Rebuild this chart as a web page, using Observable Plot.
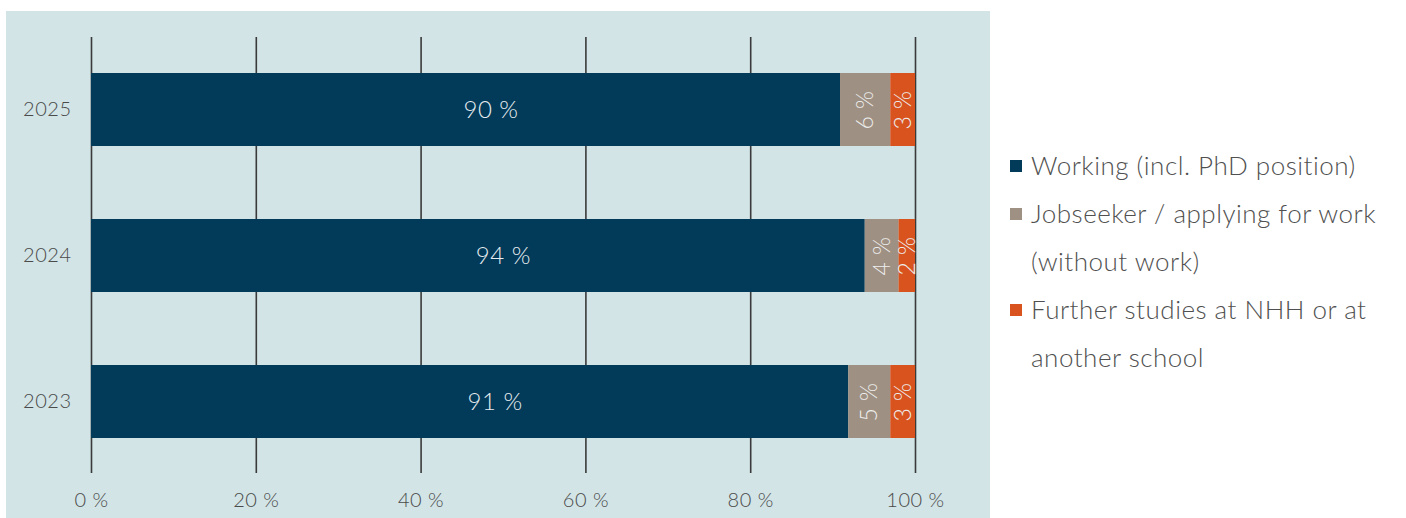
<!DOCTYPE html>
<html>
<head>
<meta charset="utf-8">
<script src="https://cdn.jsdelivr.net/npm/d3@7"></script>
<script src="https://cdn.jsdelivr.net/npm/@observablehq/plot@0.6"></script>
<style>
  body { margin: 0; background: #fff; font-family: Lato, "Noto Sans", sans-serif; }
  #panel { position: absolute; left: 6px; top: 11px; width: 984px; height: 507px; background: #d2e4e6; }
  #legend { position: absolute; left: 1010px; top: 141px; font-size: 26px; letter-spacing: 0.5px; color: #505050; font-weight: 300; }
  .item { display: flex; align-items: flex-start; line-height: 48px; }
  .sw { width: 12px; height: 12px; margin-top: 19px; margin-right: 9px; flex: none; }
  .lbl { width: 372px; }
  svg text { letter-spacing: 0.5px; }
</style>
</head>
<body>
<div id="panel"></div>
<div id="legend"></div>
<script>
const years = ["2025", "2024", "2023"];
const categories = ["Working (incl. PhD position)", "Jobseeker / applying for work (without work)", "Further studies at NHH or at another school"];
const working = [90.9, 93.9, 91.9];
const jobseeker = [6.1, 4.1, 5.1];
const further = [3.0, 2.0, 3.0];
const workingLabels = [90, 94, 91];
const jobseekerLabels = [6, 4, 5];
const furtherLabels = [3, 2, 3];
const xTicks = [0, 20, 40, 60, 80, 100];
const colors = ["#023a59", "#9e9082", "#d9531e"];

const series = [working, jobseeker, further];
const labels = [workingLabels, jobseekerLabels, furtherLabels];
const data = [];
years.forEach((y, i) => {
  categories.forEach((c, k) => {
    data.push({year: y, cat: c, k, value: series[k][i], label: labels[k][i] + " %"});
  });
});

const chart = Plot.plot({
  width: 984,
  height: 507,
  marginLeft: 85,
  marginRight: 75,
  marginTop: 26,
  marginBottom: 45,
  style: {background: "transparent", fontFamily: "Lato, 'Noto Sans', sans-serif", color: "#4a4a4a", fontWeight: 300},
  x: {domain: [0, 100], ticks: xTicks, tickFormat: d => d + " %", tickSize: 0, tickPadding: 19, label: null},
  y: {domain: years, paddingInner: 0.5, paddingOuter: 0.243, tickSize: 0, tickPadding: 20, label: null},
  color: {domain: categories, range: colors},
  marks: [
    Plot.ruleX(xTicks, {stroke: "#3a3a3a", strokeWidth: 1.6}),
    Plot.barX(data, Plot.stackX({x: "value", y: "year", fill: "cat", order: null})),
    Plot.text(data.filter(d => d.k === 0), Plot.stackX({
      x: "value", y: "year", text: "label",
      fontSize: 24, fill: "#e6ecef", fontWeight: 300, dx: 25
    })),
    Plot.text(data, Plot.stackX({
      x: "value", y: "year", z: "cat", order: null,
      text: d => d.k === 0 ? "" : d.label,
      rotate: -90,
      fontSize: 23,
      fill: "#eeeeee",
      fontWeight: 300
    }))
  ]
});
chart.querySelectorAll('g[aria-label="x-axis tick label"]').forEach(g => g.setAttribute("font-size", "20"));
chart.querySelectorAll('g[aria-label="y-axis tick label"]').forEach(g => g.setAttribute("font-size", "20"));
document.getElementById("panel").appendChild(chart);

const legend = document.getElementById("legend");
categories.forEach((c, k) => {
  const item = document.createElement("div");
  item.className = "item";
  item.innerHTML = `<div class="sw" style="background:${colors[k]}"></div><div class="lbl">${c}</div>`;
  legend.appendChild(item);
});
</script>
</body>
</html>
